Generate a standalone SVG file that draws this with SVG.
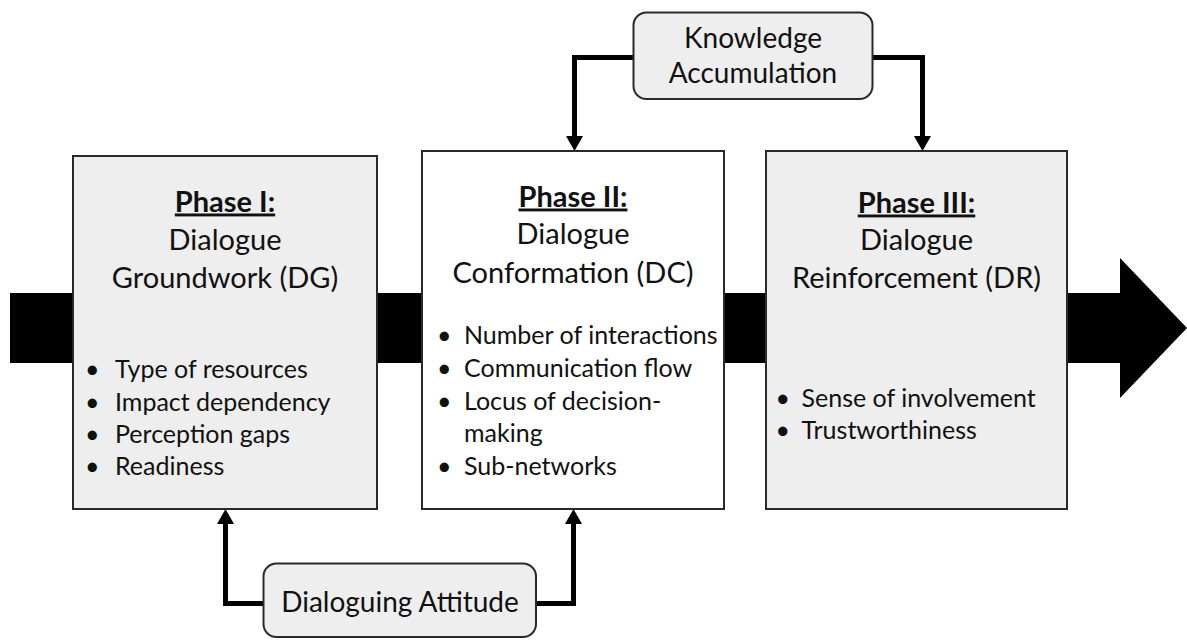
<svg xmlns="http://www.w3.org/2000/svg" width="1187" height="640" viewBox="0 0 1187 640">
<style>
.box{stroke:#2a2a2a;stroke-width:2}
.gray{fill:#eeeeee}
.white{fill:#ffffff}
.t{font-family:Lato,"Liberation Sans",sans-serif;fill:#111}
.hd{font-size:29px;text-anchor:middle}
.lb{font-size:28px;text-anchor:middle}
.ph{font-weight:bold;text-decoration:underline}
.bl{font-size:25px}
.conn{fill:none;stroke:#000;stroke-width:5;stroke-linejoin:miter}
</style>
<defs>
<marker id="ah" viewBox="0 0 15 17" refX="0" refY="8.5" markerWidth="15" markerHeight="17" markerUnits="userSpaceOnUse" orient="auto">
<path d="M0,0 L15,8.5 L0,17 z" fill="#000"/>
</marker>
</defs>
<g id="flow-arrow">
<path d="M10,293 H1120 V258 L1187,328 L1120,398 V363 H10 Z" fill="#000"/>
</g>
<g id="connectors">
<path class="conn" d="M634,57.5 H574.5 V136" marker-end="url(#ah)"/>
<path class="conn" d="M872,57.5 H922.5 V136" marker-end="url(#ah)"/>
<path class="conn" d="M264,603.5 H225.5 V524" marker-end="url(#ah)"/>
<path class="conn" d="M535,603.5 H573.5 V524" marker-end="url(#ah)"/>
</g>
<g id="phase1">
<rect class="box gray" x="73" y="156" width="304" height="353"/>
<text class="t hd ph" x="225" y="211.5">Phase I:</text>
<text class="t hd" x="225" y="250">Dialogue</text>
<text class="t hd" x="225" y="287.5">Groundwork (DG)</text>
<text class="t bl" x="85" y="378">•</text><text class="t bl" x="115" y="378">Type of resources</text>
<text class="t bl" x="85" y="410.5">•</text><text class="t bl" x="115" y="410.5">Impact dependency</text>
<text class="t bl" x="85" y="442.5">•</text><text class="t bl" x="115" y="442.5">Perception gaps</text>
<text class="t bl" x="85" y="475">•</text><text class="t bl" x="115" y="475">Readiness</text>
</g>
<g id="phase2">
<rect class="box white" x="422" y="151" width="302" height="358"/>
<text class="t hd ph" x="573" y="206.5">Phase II:</text>
<text class="t hd" x="573" y="244">Dialogue</text>
<text class="t hd" x="573" y="282.5">Conformation (DC)</text>
<text class="t bl" x="437" y="344">•</text><text class="t bl" x="464" y="344">Number of interactions</text>
<text class="t bl" x="437" y="376.5">•</text><text class="t bl" x="464" y="376.5">Communication flow</text>
<text class="t bl" x="437" y="410">•</text><text class="t bl" x="464" y="410">Locus of decision-</text>
<text class="t bl" x="464" y="441.5">making</text>
<text class="t bl" x="437" y="475">•</text><text class="t bl" x="464" y="475">Sub-networks</text>
</g>
<g id="phase3">
<rect class="box gray" x="766" y="151" width="301" height="358"/>
<text class="t hd ph" x="916.5" y="212.5">Phase III:</text>
<text class="t hd" x="916.5" y="250">Dialogue</text>
<text class="t hd" x="916.5" y="288">Reinforcement (DR)</text>
<text class="t bl" x="775.5" y="406.5">•</text><text class="t bl" x="801.5" y="406.5">Sense of involvement</text>
<text class="t bl" x="775.5" y="439">•</text><text class="t bl" x="801.5" y="439">Trustworthiness</text>
</g>
<g id="knowledge-accumulation">
<rect class="box gray" x="633.5" y="12.5" width="239" height="86.5" rx="13" ry="13"/>
<text class="t lb" x="753" y="47.5">Knowledge</text>
<text class="t lb" x="753" y="83">Accumulation</text>
</g>
<g id="dialoguing-attitude">
<rect class="box gray" x="263.5" y="563.5" width="272.5" height="73.5" rx="13" ry="13"/>
<text class="t lb" x="400" y="611.5">Dialoguing Attitude</text>
</g>
</svg>
